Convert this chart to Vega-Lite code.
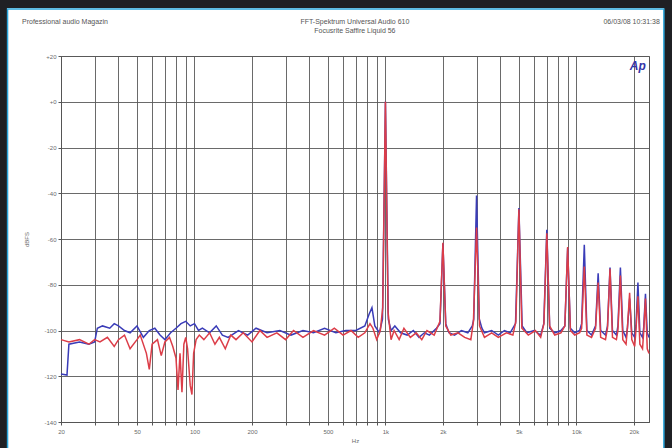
{
  "$schema": "https://vega.github.io/schema/vega-lite/v6.json",
  "width": 588,
  "height": 366,
  "autosize": "none",
  "padding": {"left": 61, "top": 56, "right": 23, "bottom": 26},
  "background": "#ffffff",
  "config": {
    "font": "Liberation Sans",
    "view": {"stroke": "#555555", "strokeWidth": 1},
    "axis": {
      "grid": true,
      "gridColor": "#5a5a5a",
      "gridWidth": 1,
      "gridOpacity": 0.9,
      "domainColor": "#555555",
      "tickColor": "#555555",
      "tickSize": 3,
      "labelFontSize": 6,
      "labelColor": "#6a6a6a",
      "titleFontSize": 6,
      "titleColor": "#6a6a6a",
      "titleFontWeight": "normal",
      "labelFlush": false,
      "labelOverlap": false
    }
  },
  "datasets": {
    "blue": [
      {"f": 20, "db": -119}, {"f": 21.5, "db": -119.5}, {"f": 22, "db": -106}, {"f": 25, "db": -105}, {"f": 28, "db": -106},
      {"f": 30, "db": -105}, {"f": 31, "db": -99}, {"f": 33, "db": -98}, {"f": 36, "db": -99}, {"f": 38, "db": -97},
      {"f": 40, "db": -98}, {"f": 43, "db": -100}, {"f": 46, "db": -101}, {"f": 50, "db": -98}, {"f": 54, "db": -103},
      {"f": 58, "db": -100}, {"f": 62, "db": -99}, {"f": 66, "db": -102}, {"f": 70, "db": -104}, {"f": 75, "db": -101},
      {"f": 80, "db": -99}, {"f": 85, "db": -97}, {"f": 90, "db": -96}, {"f": 95, "db": -98}, {"f": 100, "db": -97},
      {"f": 105, "db": -100}, {"f": 110, "db": -99}, {"f": 120, "db": -101}, {"f": 130, "db": -98}, {"f": 140, "db": -102},
      {"f": 150, "db": -103}, {"f": 170, "db": -100}, {"f": 190, "db": -102}, {"f": 210, "db": -99}, {"f": 240, "db": -101},
      {"f": 280, "db": -100}, {"f": 320, "db": -102}, {"f": 370, "db": -100}, {"f": 420, "db": -101}, {"f": 480, "db": -99},
      {"f": 550, "db": -101}, {"f": 620, "db": -100}, {"f": 700, "db": -100}, {"f": 780, "db": -98}, {"f": 820, "db": -93},
      {"f": 850, "db": -90}, {"f": 880, "db": -98}, {"f": 930, "db": -101}, {"f": 965, "db": -95}, {"f": 1000, "db": 0},
      {"f": 1035, "db": -95}, {"f": 1070, "db": -100}, {"f": 1120, "db": -98}, {"f": 1200, "db": -101}, {"f": 1300, "db": -102},
      {"f": 1400, "db": -100}, {"f": 1500, "db": -103}, {"f": 1600, "db": -101}, {"f": 1700, "db": -102}, {"f": 1850, "db": -99},
      {"f": 1930, "db": -97}, {"f": 2000, "db": -62}, {"f": 2070, "db": -97}, {"f": 2150, "db": -101}, {"f": 2300, "db": -102},
      {"f": 2500, "db": -100}, {"f": 2700, "db": -101}, {"f": 2850, "db": -98}, {"f": 2900, "db": -95}, {"f": 3000, "db": -41},
      {"f": 3100, "db": -95}, {"f": 3200, "db": -99}, {"f": 3300, "db": -101}, {"f": 3600, "db": -100}, {"f": 3900, "db": -102},
      {"f": 4200, "db": -100}, {"f": 4500, "db": -101}, {"f": 4800, "db": -97}, {"f": 5000, "db": -46.5}, {"f": 5200, "db": -98},
      {"f": 5500, "db": -101}, {"f": 6000, "db": -100}, {"f": 6500, "db": -102}, {"f": 6750, "db": -97}, {"f": 7000, "db": -56},
      {"f": 7250, "db": -99}, {"f": 7700, "db": -101}, {"f": 8300, "db": -100}, {"f": 8700, "db": -98}, {"f": 9000, "db": -64},
      {"f": 9300, "db": -99}, {"f": 9800, "db": -101}, {"f": 10400, "db": -100}, {"f": 10650, "db": -97}, {"f": 11000, "db": -62.5},
      {"f": 11350, "db": -100}, {"f": 12000, "db": -102}, {"f": 12600, "db": -98}, {"f": 13000, "db": -75}, {"f": 13400, "db": -100},
      {"f": 14200, "db": -102}, {"f": 14550, "db": -98}, {"f": 15000, "db": -72.5}, {"f": 15450, "db": -100}, {"f": 16200, "db": -102},
      {"f": 16500, "db": -98}, {"f": 17000, "db": -72.5}, {"f": 17500, "db": -100}, {"f": 18200, "db": -103}, {"f": 18500, "db": -99},
      {"f": 19000, "db": -86}, {"f": 19500, "db": -101}, {"f": 20200, "db": -103}, {"f": 20500, "db": -98}, {"f": 21000, "db": -79},
      {"f": 21500, "db": -101}, {"f": 22200, "db": -103}, {"f": 22500, "db": -99}, {"f": 23000, "db": -84}, {"f": 23500, "db": -101},
      {"f": 24000, "db": -103}
    ],
    "red": [
      {"f": 20, "db": -104}, {"f": 22, "db": -105}, {"f": 25, "db": -104}, {"f": 28, "db": -106}, {"f": 30, "db": -104},
      {"f": 32, "db": -105}, {"f": 35, "db": -103}, {"f": 38, "db": -107}, {"f": 40, "db": -104}, {"f": 43, "db": -102},
      {"f": 46, "db": -108}, {"f": 50, "db": -104}, {"f": 52, "db": -102}, {"f": 56, "db": -110}, {"f": 58, "db": -117},
      {"f": 60, "db": -106}, {"f": 64, "db": -104}, {"f": 67, "db": -111}, {"f": 70, "db": -105}, {"f": 74, "db": -103},
      {"f": 77, "db": -107}, {"f": 80, "db": -112}, {"f": 82, "db": -126}, {"f": 84, "db": -110}, {"f": 86, "db": -127},
      {"f": 88, "db": -106}, {"f": 90, "db": -103}, {"f": 92, "db": -108}, {"f": 95, "db": -124}, {"f": 97, "db": -128},
      {"f": 99, "db": -110}, {"f": 102, "db": -104}, {"f": 106, "db": -102}, {"f": 112, "db": -104}, {"f": 120, "db": -101},
      {"f": 128, "db": -106}, {"f": 135, "db": -103}, {"f": 145, "db": -108}, {"f": 155, "db": -102}, {"f": 165, "db": -104},
      {"f": 180, "db": -101}, {"f": 200, "db": -105}, {"f": 220, "db": -100}, {"f": 240, "db": -103}, {"f": 270, "db": -101},
      {"f": 300, "db": -104}, {"f": 330, "db": -100}, {"f": 370, "db": -103}, {"f": 420, "db": -100}, {"f": 480, "db": -102},
      {"f": 540, "db": -99}, {"f": 600, "db": -102}, {"f": 660, "db": -100}, {"f": 720, "db": -103}, {"f": 780, "db": -101},
      {"f": 830, "db": -97}, {"f": 860, "db": -99}, {"f": 900, "db": -104}, {"f": 940, "db": -100}, {"f": 968, "db": -90},
      {"f": 1000, "db": 0}, {"f": 1032, "db": -92}, {"f": 1070, "db": -104}, {"f": 1110, "db": -100}, {"f": 1180, "db": -104},
      {"f": 1250, "db": -99}, {"f": 1350, "db": -103}, {"f": 1450, "db": -101}, {"f": 1550, "db": -104}, {"f": 1650, "db": -100},
      {"f": 1800, "db": -102}, {"f": 1930, "db": -96}, {"f": 2000, "db": -61.7}, {"f": 2070, "db": -98}, {"f": 2200, "db": -102},
      {"f": 2400, "db": -101}, {"f": 2600, "db": -103}, {"f": 2800, "db": -104}, {"f": 2890, "db": -96}, {"f": 3000, "db": -55},
      {"f": 3110, "db": -98}, {"f": 3300, "db": -103}, {"f": 3600, "db": -101}, {"f": 3900, "db": -103}, {"f": 4300, "db": -101},
      {"f": 4650, "db": -102}, {"f": 4820, "db": -96}, {"f": 5000, "db": -47}, {"f": 5180, "db": -99}, {"f": 5600, "db": -102},
      {"f": 6100, "db": -100}, {"f": 6500, "db": -103}, {"f": 6760, "db": -97}, {"f": 7000, "db": -57.5}, {"f": 7240, "db": -98},
      {"f": 7700, "db": -102}, {"f": 8300, "db": -101}, {"f": 8700, "db": -98}, {"f": 9000, "db": -63.5}, {"f": 9300, "db": -100},
      {"f": 9800, "db": -102}, {"f": 10400, "db": -101}, {"f": 10650, "db": -99}, {"f": 11000, "db": -72}, {"f": 11350, "db": -102},
      {"f": 12000, "db": -103}, {"f": 12600, "db": -99}, {"f": 13000, "db": -79}, {"f": 13400, "db": -103}, {"f": 14200, "db": -104},
      {"f": 14550, "db": -99}, {"f": 15000, "db": -73}, {"f": 15450, "db": -103}, {"f": 16200, "db": -104}, {"f": 16500, "db": -100},
      {"f": 17000, "db": -76}, {"f": 17500, "db": -104}, {"f": 18200, "db": -106}, {"f": 18500, "db": -99}, {"f": 19000, "db": -83.5},
      {"f": 19500, "db": -104}, {"f": 20200, "db": -107}, {"f": 20500, "db": -100}, {"f": 21000, "db": -85}, {"f": 21500, "db": -106},
      {"f": 22200, "db": -108}, {"f": 22500, "db": -101}, {"f": 23000, "db": -86}, {"f": 23500, "db": -108}, {"f": 24000, "db": -110}
    ]
  },
  "layer": [
    {
      "data": {"name": "blue"},
      "mark": {"type": "line", "color": "#3a3cb8", "strokeWidth": 1.5},
      "encoding": {
        "x": {
          "field": "f",
          "type": "quantitative",
          "title": "Hz",
          "scale": {"type": "log", "domain": [20, 24000], "nice": false},
          "axis": {
            "values": [20, 30, 40, 50, 60, 70, 80, 90, 100, 200, 300, 400, 500, 600, 700, 800, 900, 1000, 2000, 3000, 4000, 5000, 6000, 7000, 8000, 9000, 10000, 20000],
            "labelExpr": "indexof([20, 50, 100, 200, 500, 1000, 2000, 5000, 10000, 20000], datum.value) >= 0 ? (datum.value >= 1000 ? (datum.value / 1000) + 'k' : '' + datum.value) : ''",
            "labelPadding": 3,
            "titlePadding": 3
          }
        },
        "y": {
          "field": "db",
          "type": "quantitative",
          "title": "dBFS",
          "scale": {"domain": [-140, 20], "nice": false, "zero": false},
          "axis": {
            "values": [20, 10, 0, -10, -20, -30, -40, -50, -60, -70, -80, -90, -100, -110, -120, -130, -140],
            "labelExpr": "datum.value >= 0 ? '+' + datum.value : '' + datum.value",
            "labelPadding": 2,
            "titlePadding": 14
          }
        }
      }
    },
    {
      "data": {"name": "red"},
      "mark": {"type": "line", "color": "#dc3d48", "strokeWidth": 1.5},
      "encoding": {
        "x": {"field": "f", "type": "quantitative", "title": "Hz", "scale": {"type": "log", "domain": [20, 24000], "nice": false}},
        "y": {"field": "db", "type": "quantitative", "title": "dBFS", "scale": {"domain": [-140, 20], "nice": false, "zero": false}}
      }
    },
    {
      "data": {"values": [{}]},
      "mark": {"type": "rect", "filled": false, "stroke": "#1f2024", "strokeWidth": 16, "clip": false},
      "encoding": {
        "x": {"datum": 9.47, "type": "quantitative", "title": "Hz", "scale": {"type": "log", "domain": [20, 24000], "nice": false}},
        "x2": {"datum": 31620},
        "y": {"datum": 44.5, "type": "quantitative", "title": "dBFS", "scale": {"domain": [-140, 20], "nice": false, "zero": false}},
        "y2": {"datum": -161}
      }
    },
    {
      "data": {"values": [{}]},
      "mark": {"type": "rect", "filled": false, "stroke": "#2aa6dc", "strokeWidth": 1.5, "clip": false},
      "encoding": {
        "x": {"datum": 10.5, "type": "quantitative", "title": "Hz", "scale": {"type": "log", "domain": [20, 24000], "nice": false}},
        "x2": {"datum": 28720},
        "y": {"datum": 40.6, "type": "quantitative", "title": "dBFS", "scale": {"domain": [-140, 20], "nice": false, "zero": false}},
        "y2": {"datum": -161}
      }
    },
    {
      "data": {"values": [{}]},
      "mark": {"type": "text", "text": "Professional audio Magazin", "align": "left", "baseline": "middle", "fontSize": 7, "color": "#555555", "clip": false},
      "encoding": {
        "x": {"datum": 12.5, "type": "quantitative", "title": "Hz", "scale": {"type": "log", "domain": [20, 24000], "nice": false}},
        "y": {"datum": 35, "type": "quantitative", "title": "dBFS", "scale": {"domain": [-140, 20], "nice": false, "zero": false}}
      }
    },
    {
      "data": {"values": [{}]},
      "mark": {"type": "text", "text": ["FFT-Spektrum Universal Audio 610", "Focusrite Saffire Liquid 56"], "align": "center", "baseline": "middle", "fontSize": 7, "lineHeight": 9, "color": "#555555", "clip": false},
      "encoding": {
        "x": {"datum": 692, "type": "quantitative", "title": "Hz", "scale": {"type": "log", "domain": [20, 24000], "nice": false}},
        "y": {"datum": 34.8, "type": "quantitative", "title": "dBFS", "scale": {"domain": [-140, 20], "nice": false, "zero": false}}
      }
    },
    {
      "data": {"values": [{}]},
      "mark": {"type": "text", "text": "06/03/08 10:31:38", "align": "right", "baseline": "middle", "fontSize": 7, "color": "#555555", "clip": false},
      "encoding": {
        "x": {"datum": 27360, "type": "quantitative", "title": "Hz", "scale": {"type": "log", "domain": [20, 24000], "nice": false}},
        "y": {"datum": 35, "type": "quantitative", "title": "dBFS", "scale": {"domain": [-140, 20], "nice": false, "zero": false}}
      }
    },
    {
      "data": {"values": [{}]},
      "mark": {"type": "text", "text": "Ap", "align": "center", "baseline": "middle", "fontSize": 12, "fontWeight": "bold", "fontStyle": "italic", "color": "#3434a8", "clip": false},
      "encoding": {
        "x": {"datum": 20980, "type": "quantitative", "title": "Hz", "scale": {"type": "log", "domain": [20, 24000], "nice": false}},
        "y": {"datum": 15.6, "type": "quantitative", "title": "dBFS", "scale": {"domain": [-140, 20], "nice": false, "zero": false}}
      }
    }
  ]
}
